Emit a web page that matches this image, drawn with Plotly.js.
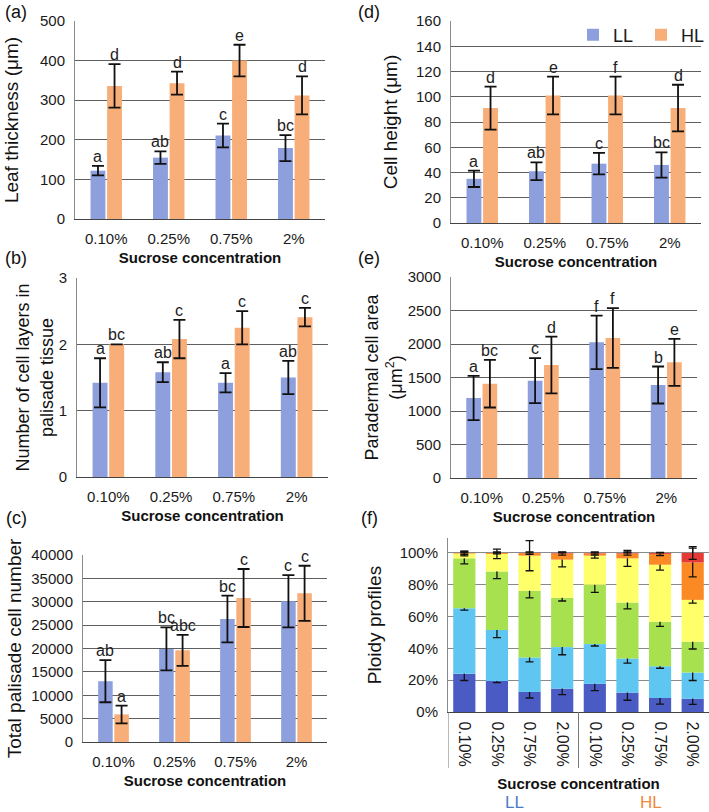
<!DOCTYPE html>
<html><head><meta charset="utf-8">
<script src="https://cdn.plot.ly/plotly-3.0.1.min.js"></script>
<style>html,body{margin:0;padding:0;background:#fff}#chart{width:709px;height:812px}</style>
</head><body><div id="chart"></div>
<script>
// ---------- data ----------
const categories = ['0.10%', '0.25%', '0.75%', '2%'];
const seriesNames = ['LL', 'HL'];

// (a) leaf thickness (µm)
const thicknessLL = [122, 155, 211, 179];
const thicknessLLErr = [12, 16, 30, 33];
const thicknessHL = [336, 343, 400, 312];
const thicknessHLErr = [55, 29, 40, 48];
const thicknessLLLetters = ['a', 'ab', 'c', 'bc'];
const thicknessHLLetters = ['d', 'd', 'e', 'd'];

// (b) number of cell layers in palisade tissue
const layersLL = [1.42, 1.58, 1.42, 1.50];
const layersLLErr = [0.37, 0.15, 0.145, 0.25];
const layersHL = [2.0, 2.08, 2.25, 2.41];
const layersHLErr = [0, 0.29, 0.25, 0.14];
const layersLLLetters = ['a', 'ab', 'a', 'ab'];
const layersHLLetters = ['bc', 'c', 'c', 'c'];

// (c) total palisade cell number
const cellsLL = [13000, 19900, 26300, 30100];
const cellsLLErr = [4500, 4600, 5000, 5600];
const cellsHL = [5900, 19600, 30800, 31800];
const cellsHLErr = [1900, 3300, 6200, 5900];
const cellsLLLetters = ['ab', 'bc', 'bc', 'c'];
const cellsHLLetters = ['a', 'abc', 'c', 'c'];

// (d) cell height (µm)
const heightLL = [35, 41, 47, 46];
const heightLLErr = [6.5, 7, 8.5, 10];
const heightHL = [91, 101, 101, 91];
const heightHLErr = [17, 15, 15, 18.5];
const heightLLLetters = ['a', 'ab', 'c', 'bc'];
const heightHLLetters = ['d', 'e', 'f', 'd'];

// (e) paradermal cell area (µm2)
const areaLL = [1194, 1453, 2025, 1388];
const areaLLErr = [330, 336, 400, 276];
const areaHL = [1408, 1687, 2090, 1726];
const areaHLErr = [356, 423, 445, 350];
const areaLLLetters = ['a', 'c', 'f', 'b'];
const areaHLLetters = ['bc', 'd', 'f', 'e'];

// (f) ploidy profiles (%), 8 columns: LL 0.10..2.00, HL 0.10..2.00
const ploidyLabels = ['0.10%', '0.25%', '0.75%', '2.00%', '0.10%', '0.25%', '0.75%', '2.00%'];
const ploidyGroups = ['LL', 'LL', 'LL', 'LL', 'HL', 'HL', 'HL', 'HL'];
const ploidy2C  = [24.0, 19.5, 12.6, 14.7, 17.7, 12.2, 8.8, 8.4];
const ploidy4C  = [41.3, 32.1, 21.7, 26.1, 25.0, 21.5, 20.0, 16.4];
const ploidy8C  = [31.3, 36.8, 41.9, 31.0, 37.3, 35.1, 28.0, 19.4];
const ploidy16C = [3.0, 11.0, 22.1, 24.0, 18.3, 27.8, 35.8, 26.3];
const ploidy32C = [0.4, 0.6, 1.6, 3.8, 1.4, 3.0, 6.8, 23.5];
const ploidy64C = [0.0, 0.0, 0.1, 0.4, 0.3, 0.4, 0.6, 6.0];
const ploidy2CErr  = [4.2, 1.0, 3.8, 3.8, 4.2, 4.8, 3.8, 3.6];
const ploidy4CErr  = [1.2, 4.8, 2.8, 4.8, 1.2, 3.0, 1.3, 5.0];
const ploidy8CErr  = [3.5, 4.6, 4.4, 2.0, 4.8, 3.9, 3.0, 4.6];
const ploidy16CErr = [1.5, 3.0, 9.5, 4.6, 1.5, 5.0, 3.4, 2.0];
const ploidy32CErr = [1.0, 0.6, 0.8, 1.0, 1.0, 1.0, 1.0, 9.0];
const ploidy64CErr = [0, 0, 0, 0, 0, 0, 0, 4.0];

// ---------- styling ----------
const W = 709, H = 812;
const FONT = 'Liberation Sans, Arial, sans-serif';
const COL_LL = '#8E9FDD', COL_HL = '#F8AE78';
const ploidyColors = ['#4A5CC4', '#5EC6F0', '#A7E14F', '#FFFF6A', '#FB8A24', '#E63A36'];
const BARGAP = 0.47;
const fx = p => p / W;
const fy = p => 1 - p / H;

const panels = [
  {id: '', dom: [75, 325, 21, 219], range: [0, 500], dtick: 100, title: 'Leaf thickness (μm)', tfs: 19, so: 16,
   ll: thicknessLL, lle: thicknessLLErr, hl: thicknessHL, hle: thicknessHLErr, lll: thicknessLLLetters, hll: thicknessHLLetters, legend: true},
  {id: '2', dom: [77, 328, 278, 477], range: [0, 3], dtick: 1, title: 'Number of cell layers in<br>palisade tissue', tfs: 18, so: 0,
   ll: layersLL, lle: layersLLErr, hl: layersHL, hle: layersHLErr, lll: layersLLLetters, hll: layersHLLetters},
  {id: '3', dom: [83, 327, 555, 742], range: [0, 40000], dtick: 5000, title: 'Total palisade cell number', tfs: 19, so: 4,
   ll: cellsLL, lle: cellsLLErr, hl: cellsHL, hle: cellsHLErr, lll: cellsLLLetters, hll: cellsHLLetters},
  {id: '4', dom: [451, 701, 21, 223], range: [0, 160], dtick: 20, title: 'Cell height (μm)', tfs: 19, so: 13,
   ll: heightLL, lle: heightLLErr, hl: heightHL, hle: heightHLErr, lll: heightLLLetters, hll: heightHLLetters},
  {id: '5', dom: [451, 697, 277, 478], range: [0, 3000], dtick: 500, title: 'Paradermal cell area<br>(μm<sup>2</sup>)', tfs: 18, so: 0,
   ll: areaLL, lle: areaLLErr, hl: areaHL, hle: areaHLErr, lll: areaLLLetters, hll: areaHLLetters}
];

const traces = [];
const annotations = [];
const layout = {
  width: W, height: H,
  margin: {l: 0, r: 0, t: 0, b: 0, autoexpand: false},
  paper_bgcolor: '#fff', plot_bgcolor: '#fff',
  font: {family: FONT, size: 15, color: '#1a1a1a'},
  barmode: 'group', bargap: BARGAP, bargroupgap: 0.1,
  showlegend: true,
  legend: {orientation: 'h', x: fx(573), y: fy(35), xanchor: 'left', yanchor: 'middle',
           font: {family: FONT, size: 18, color: '#1a1a1a'}, bgcolor: 'rgba(0,0,0,0)',
           itemwidth: 30, entrywidth: 23, entrywidthmode: 'pixels', tracegroupgap: 0, itemclick: false},
  shapes: [],
  annotations: annotations
};

const errStyle = (arr) => ({type: 'data', array: arr, visible: true, color: '#111', thickness: 1.8, width: 6});

panels.forEach(p => {
  const xa = 'x' + p.id, ya = 'y' + p.id;
  traces.push({type: 'bar', name: seriesNames[0], x: categories, y: p.ll, error_y: errStyle(p.lle),
    marker: {color: COL_LL}, xaxis: xa, yaxis: ya, showlegend: !!p.legend, legendgroup: 'LL', hoverinfo: 'y'});
  traces.push({type: 'bar', name: seriesNames[1], x: categories, y: p.hl, error_y: errStyle(p.hle),
    marker: {color: COL_HL}, xaxis: xa, yaxis: ya, showlegend: !!p.legend, legendgroup: 'HL', hoverinfo: 'y'});
  layout['xaxis' + p.id] = {
    domain: [fx(p.dom[0]), fx(p.dom[1])], anchor: ya, type: 'category',
    showline: true, linecolor: '#444', linewidth: 1.2, ticks: '', ticklabelstandoff: 6,
    tickfont: {size: 15}, showgrid: false, fixedrange: true,
    title: {text: 'Sucrose concentration', font: {size: 15, weight: 'bold', color: '#111'}, standoff: 6}
  };
  layout['yaxis' + p.id] = {
    domain: [fy(p.dom[3]), fy(p.dom[2])], anchor: xa, range: p.range, dtick: p.dtick, tick0: 0,
    tickformat: 'd',
    showline: true, linecolor: '#8a8a8a', linewidth: 1, ticks: '', ticklabelstandoff: 6,
    showgrid: true, gridcolor: '#5f5f5f', gridwidth: 1, zeroline: false, fixedrange: true,
    tickfont: {size: 15},
    title: {text: p.title, font: {size: p.tfs, color: '#111'}, standoff: p.so}
  };
  // letters above the error bars
  const catPx = (p.dom[1] - p.dom[0]) / categories.length;
  const off = catPx * (1 - BARGAP) / 4;
  categories.forEach((c, i) => {
    annotations.push({xref: xa, yref: ya, x: c, y: p.ll[i] + p.lle[i], xshift: -off, yshift: -1,
      text: p.lll[i], showarrow: false, yanchor: 'bottom', font: {size: 16, color: '#222'}});
    annotations.push({xref: xa, yref: ya, x: c, y: p.hl[i] + p.hle[i], xshift: off, yshift: -1,
      text: p.hll[i], showarrow: false, yanchor: 'bottom', font: {size: 16, color: '#222'}});
  });
});

// (f) stacked ploidy profile
const ploidySeries = [ploidy2C, ploidy4C, ploidy8C, ploidy16C, ploidy32C, ploidy64C];
const ploidyErrs = [ploidy2CErr, ploidy4CErr, ploidy8CErr, ploidy16CErr, ploidy32CErr, ploidy64CErr];
const ploidyNames = ['2C', '4C', '8C', '16C', '32C', '64C'];
const ploidyIdx = ploidyLabels.map((_, i) => i);
const runningBase = ploidyLabels.map(() => 0);
ploidySeries.forEach((vals, k) => {
  traces.push({type: 'bar', name: ploidyNames[k], x: ploidyIdx, y: vals, base: runningBase.slice(),
    offsetgroup: 'ploidy', width: 0.68,
    error_y: {type: 'data', array: ploidyErrs[k], visible: true, color: '#111', thickness: 1.3, width: 4},
    marker: {color: ploidyColors[k]}, xaxis: 'x6', yaxis: 'y6', showlegend: false, hoverinfo: 'y'});
  vals.forEach((v, i) => { runningBase[i] += v; });
});
layout.xaxis6 = {
  domain: [fx(448), fx(709)], anchor: 'y6', range: [-0.5, ploidyLabels.length - 0.5],
  tickvals: ploidyIdx, ticktext: ploidyLabels, tickangle: 90, ticks: '', ticklabelstandoff: 5,
  showline: true, linecolor: '#444', linewidth: 1.2, showgrid: false, zeroline: false, fixedrange: true,
  tickfont: {size: 16},
  title: {text: 'Sucrose concentration', font: {size: 15, weight: 'bold', color: '#111'}, standoff: 12}
};
layout.yaxis6 = {
  domain: [fy(712), fy(538)], anchor: 'x6', range: [0, 109.4],
  tickvals: [0, 20, 40, 60, 80, 100], ticktext: ['0%', '20%', '40%', '60%', '80%', '100%'],
  ticks: '', ticklabelstandoff: 6, showline: true, linecolor: '#8a8a8a', linewidth: 1,
  showgrid: true, gridcolor: '#8a8a8a', gridwidth: 1, zeroline: false, fixedrange: true,
  tickfont: {size: 15},
  title: {text: 'Ploidy profiles', font: {size: 19, color: '#111'}, standoff: 12}
};
// divider lines of the category table under (f)
[-0.5, 3.5].forEach(xv => {
  layout.shapes.push({type: 'line', xref: 'x6', yref: 'paper', x0: xv, x1: xv, y0: fy(712), y1: fy(768),
    line: {color: '#777', width: 1}});
});
// group labels under (f)
annotations.push({xref: 'paper', yref: 'paper', x: fx(514), y: fy(802), text: 'LL', showarrow: false,
  font: {size: 17, color: '#4A7BC8'}, xanchor: 'center', yanchor: 'middle'});
annotations.push({xref: 'paper', yref: 'paper', x: fx(651), y: fy(802), text: 'HL', showarrow: false,
  font: {size: 17, color: '#F0883A'}, xanchor: 'center', yanchor: 'middle'});

// panel letters
[['(a)', 16, 12], ['(b)', 16, 258], ['(c)', 16, 518], ['(d)', 369, 12], ['(e)', 369, 258], ['(f)', 369, 518]]
  .forEach(([t, x, y]) => annotations.push({xref: 'paper', yref: 'paper', x: fx(x), y: fy(y), text: t,
    showarrow: false, xanchor: 'center', yanchor: 'middle', font: {size: 18, color: '#111'}}));

Plotly.newPlot('chart', traces, layout, {displayModeBar: false, staticPlot: true});
</script>
</body></html>
